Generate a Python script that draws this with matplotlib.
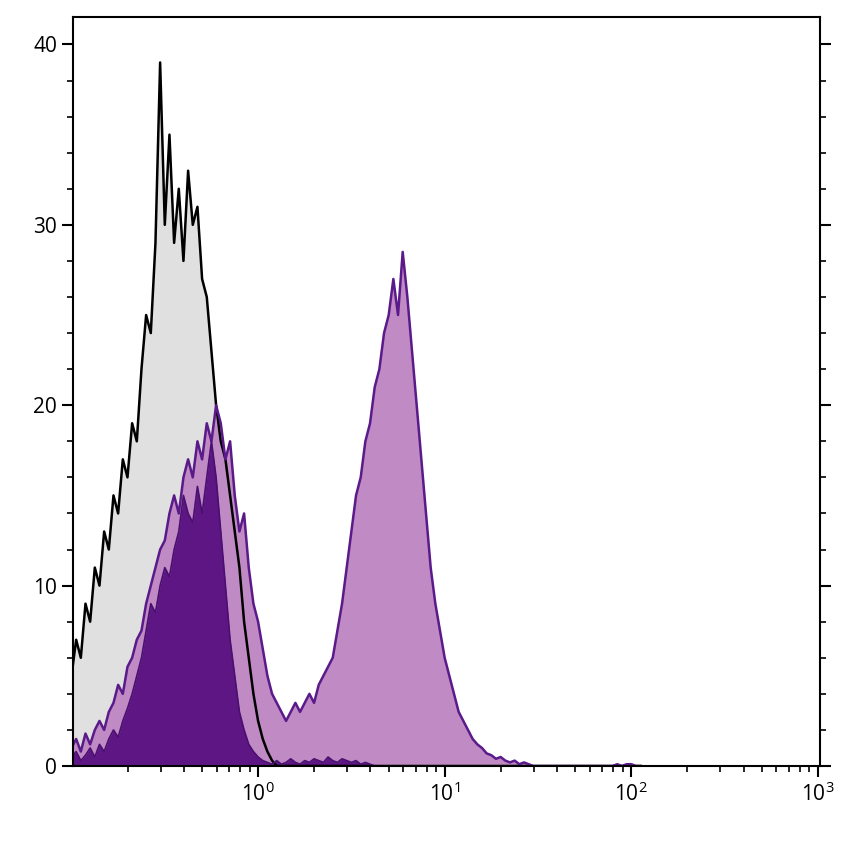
import numpy as np
import matplotlib
matplotlib.use("Agg")
import matplotlib.pyplot as plt
from matplotlib.ticker import LogLocator, MultipleLocator, NullFormatter

# log10 bin centres, step 0.025 from -1.0 to 2.05
log_start, log_step, n_bins = -1.0, 0.025, 123

grey_vals = [5, 7, 6, 9, 8, 11, 10, 13, 12, 15, 14, 17, 16, 19, 18, 22, 25, 24, 29, 39,
             30, 35, 29, 32, 28, 33, 30, 31, 27, 26, 23, 20, 18, 17, 15, 13, 11, 8, 6, 4,
             2.5, 1.5, 0.8, 0.3]
dark_vals = [0.5, 0.8, 0.3, 0.6, 1.0, 0.5, 1.2, 0.8, 1.5, 2, 1.6, 2.5, 3.2, 4, 5, 6, 7.5, 9,
             8.5, 10, 11, 10.5, 12, 13, 15, 14, 13.5, 15.5, 14, 16, 18, 16, 13, 10, 7, 5, 3, 2,
             1.2, 0.8, 0.5, 0.3, 0.2, 0.1, 0.3, 0.1, 0.2, 0.4, 0.2, 0.1, 0.3, 0.2, 0.4, 0.3,
             0.2, 0.5, 0.3, 0.2, 0.4, 0.3, 0.2, 0.3, 0.1, 0.2, 0.1]
light_vals = [1, 1.5, 0.8, 1.8, 1.2, 2, 2.5, 2, 3, 3.5, 4.5, 4, 5.5, 6, 7, 7.5, 9, 10, 11, 12,
              12.5, 14, 15, 14, 16, 17, 16, 18, 17, 19, 18, 20, 19, 17, 18, 15, 13, 14, 11, 9,
              8, 6.5, 5, 4, 3.5, 3, 2.5, 3, 3.5, 3, 3.5, 4, 3.5, 4.5, 5, 5.5, 6, 7.5, 9, 11, 13,
              15, 16, 18, 19, 21, 22, 24, 25, 27, 25, 28.5, 26, 23, 20, 17, 14, 11, 9, 7.5, 6,
              5, 4, 3, 2.5, 2, 1.5, 1.2, 1, 0.7, 0.6, 0.4, 0.5, 0.3, 0.2, 0.3, 0.1, 0.2, 0.1,
              0, 0, 0, 0, 0, 0, 0, 0, 0, 0, 0, 0, 0, 0, 0, 0, 0, 0, 0.1, 0, 0.1, 0.1, 0, 0]

def pad(v):
    return np.array(list(v) + [0] * (n_bins - len(v)))[:n_bins]

x = 10 ** (log_start + log_step * np.arange(n_bins))
grey, dark, light = pad(grey_vals), pad(dark_vals), pad(light_vals)

plt.rcParams['font.family'] = ['Open Sans', 'DejaVu Sans']
fig = plt.figure(figsize=(8.5, 8.44), dpi=100)
ax = fig.add_axes([0.086, 0.0924, 0.879, 0.887])

ax.fill_between(x, grey, color='#e0e0e0', lw=0)
ax.plot(x, grey, color='black', lw=1.8)
ax.fill_between(x, light, color='#c08ac4', lw=0)
ax.plot(x, light, color='#5a1a8a', lw=1.8)
ax.fill_between(x, dark, color='#5f1685', lw=0)
ax.plot(x, dark, color='#4a1070', lw=1.2)

ax.set_xscale('log')
ax.set_xlim(0.102, 1030)
ax.set_ylim(0, 41.5)
ax.xaxis.set_major_locator(LogLocator(base=10, numticks=10))
ax.xaxis.set_minor_locator(LogLocator(base=10, subs=np.arange(2, 10), numticks=20))
ax.xaxis.set_minor_formatter(NullFormatter())
ax.set_xticks([1, 10, 100, 1000])
ax.yaxis.set_major_locator(MultipleLocator(10))
ax.yaxis.set_minor_locator(MultipleLocator(2))
ax.tick_params(which='major', length=8, width=1.5, labelsize=15)
ax.tick_params(which='minor', length=4, width=1.2)
ax.tick_params(axis='y', which='both', right=True)
for s in ax.spines.values():
    s.set_linewidth(1.5)

fig.savefig('out.png', dpi=100)
